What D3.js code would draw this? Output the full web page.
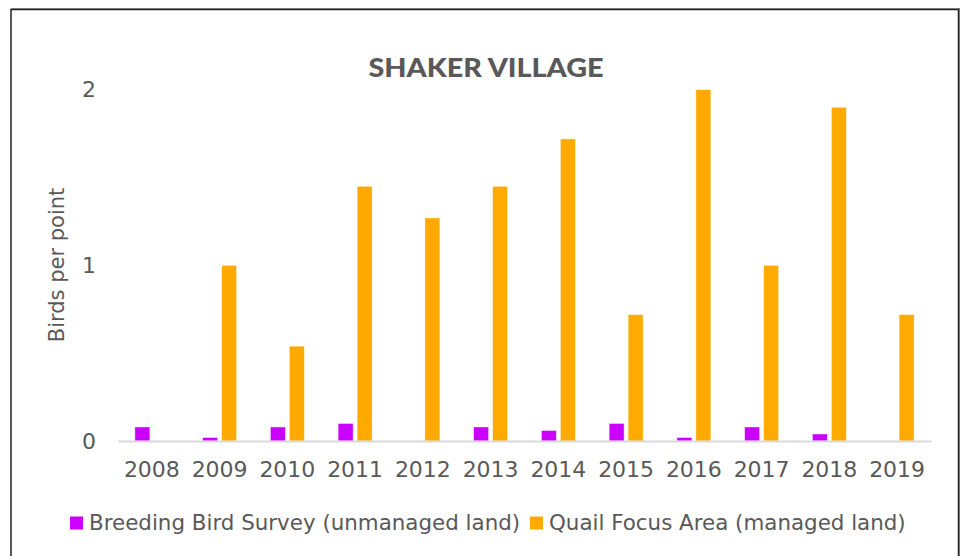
<!DOCTYPE html>
<html>
<head>
<meta charset="utf-8">
<script src="https://cdn.jsdelivr.net/npm/d3@7"></script>
<style>
  body { margin: 0; background: #fff; }
  svg { display: block; }
</style>
</head>
<body>
<svg id="chart"></svg>
<script>
// data
const years = ["2008", "2009", "2010", "2011", "2012", "2013", "2014", "2015", "2016", "2017", "2018", "2019"];
const bbsValues = [0.08, 0.02, 0.08, 0.1, 0, 0.08, 0.06, 0.1, 0.02, 0.08, 0.04, 0];
const qfaValues = [0, 1.0, 0.54, 1.45, 1.27, 1.45, 1.72, 0.72, 2.0, 1.0, 1.9, 0.72];
const seriesNames = ["Breeding Bird Survey (unmanaged land)", "Quail Focus Area (managed land)"];
const yTicks = [0, 1, 2];

const width = 961, height = 556;
const colors = ["#CC00FF", "#FFAA00"];
const textColor = "#595959";
const font = "'DejaVu Sans', sans-serif";

const svg = d3.select("#chart").attr("width", width).attr("height", height);

// frame
svg.append("line").attr("x1", 11).attr("x2", 960).attr("y1", 8.5).attr("y2", 8.5)
  .attr("stroke", "#9a9a9a").attr("stroke-width", 1);
svg.append("rect").attr("x", 11).attr("y", 9.5).attr("width", 947.5).attr("height", 600)
  .attr("fill", "none").attr("stroke", "#222").attr("stroke-width", 1.5);
svg.append("line").attr("x1", 959.5).attr("x2", 959.5).attr("y1", 8).attr("y2", height)
  .attr("stroke", "#777").attr("stroke-width", 1);

const plot = { left: 118, right: 931, top: 89.7, bottom: 441 };

const data = years.map((y, i) => ({ year: y, values: [bbsValues[i], qfaValues[i]] }));

const x0 = d3.scaleBand()
  .domain(years)
  .range([plot.left, plot.right])
  .paddingInner(0.498)
  .paddingOuter(0.249);

const x1 = d3.scaleBand()
  .domain([0, 1])
  .range([0, x0.bandwidth()])
  .paddingInner(0.21);

const y = d3.scaleLinear().domain([0, 2]).range([plot.bottom, plot.top]);

// title
svg.append("text")
  .attr("x", 486).attr("y", 77)
  .attr("text-anchor", "middle")
  .attr("font-family", "Lato, sans-serif")
  .attr("font-weight", "900")
  .attr("font-size", 27)
  .attr("fill", textColor)
  .attr("textLength", 235)
  .attr("lengthAdjust", "spacingAndGlyphs")
  .text("SHAKER VILLAGE");

// bars
const groups = svg.append("g").selectAll("g")
  .data(data)
  .join("g")
  .attr("transform", d => `translate(${x0(d.year)},0)`);

groups.selectAll("rect")
  .data(d => d.values.map((v, i) => ({ v, i })).filter(d => d.v > 0))
  .join("rect")
  .attr("x", d => x1(d.i))
  .attr("y", d => y(d.v))
  .attr("width", x1.bandwidth())
  .attr("height", d => y(0) - y(d.v))
  .attr("fill", d => colors[d.i])
  .attr("stroke", "#ffffff")
  .attr("stroke-opacity", 0.6)
  .attr("stroke-width", 0.75);

// x axis
const xAxis = svg.append("g")
  .attr("transform", `translate(0,${plot.bottom})`)
  .call(d3.axisBottom(x0).tickSize(0).tickPadding(20).tickSizeOuter(0));
xAxis.select(".domain").attr("stroke", "#d9d9d9").attr("stroke-width", 2);
xAxis.selectAll("text")
  .attr("font-family", font)
  .attr("font-size", 22)
  .attr("fill", textColor);

// y axis labels (no line)
const yAxis = svg.append("g")
  .attr("transform", `translate(96,0)`)
  .call(d3.axisLeft(y).tickValues(yTicks).tickFormat(d3.format("d")).tickSize(0).tickPadding(0));
yAxis.select(".domain").remove();
yAxis.selectAll("text")
  .attr("font-family", font)
  .attr("font-size", 22)
  .attr("fill", textColor);

// y title
svg.append("text")
  .attr("transform", "translate(64,265) rotate(-90)")
  .attr("text-anchor", "middle")
  .attr("font-family", font)
  .attr("font-size", 21)
  .attr("fill", textColor)
  .text("Birds per point");

// legend
const legendX = [70, 530];
const legend = svg.append("g").selectAll("g")
  .data(seriesNames)
  .join("g")
  .attr("transform", (d, i) => `translate(${legendX[i]},516.5)`);
legend.append("rect")
  .attr("width", 13).attr("height", 13)
  .attr("fill", (d, i) => colors[i]);
legend.append("text")
  .attr("x", 19).attr("y", 13)
  .attr("font-family", font)
  .attr("font-size", 21.4)
  .attr("fill", textColor)
  .text(d => d);
</script>
</body>
</html>
